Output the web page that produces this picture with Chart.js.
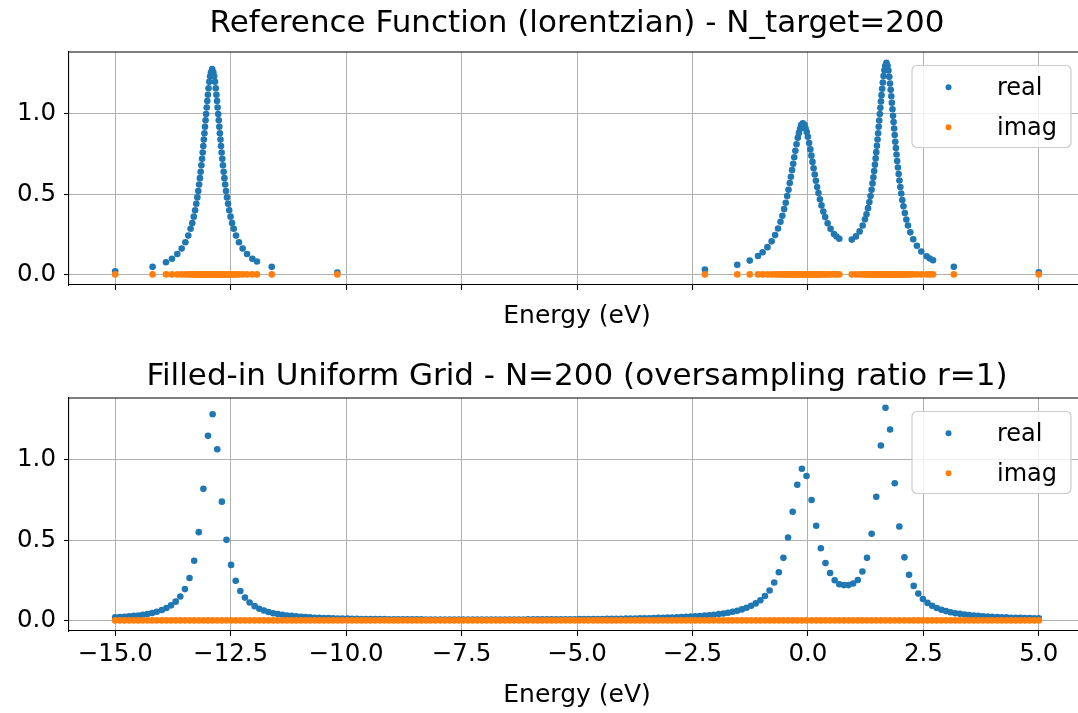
<!DOCTYPE html>
<html>
<head>
<meta charset="utf-8">
<script src="https://cdn.jsdelivr.net/npm/chart.js@4.4.1/dist/chart.umd.min.js"></script>
<style>
  html, body { margin: 0; padding: 0; background: #fff; overflow: hidden; }
  canvas { position: absolute; left: 0; display: block; }
  #refChart { top: 0; }
  #gridChart { top: 356px; }
</style>
</head>
<body>
<canvas id="refChart" width="1100" height="356"></canvas>
<canvas id="gridChart" width="1100" height="357"></canvas>
<script>
'use strict';

// reference (adaptive) sampling of the lorentzian
var refEnergy = [
  -15.00, -14.19, -13.90, -13.77, -13.655, -13.56, -13.48, -13.417, -13.367, -13.331,
  -13.298, -13.269, -13.244, -13.221, -13.201, -13.182, -13.165, -13.149, -13.133, -13.119,
  -13.105, -13.092, -13.080, -13.067, -13.055, -13.043, -13.031, -13.018, -13.006, -12.992,
  -12.978, -12.962, -12.944, -12.925, -12.90, -12.875, -12.856, -12.838, -12.822, -12.808,
  -12.794, -12.782, -12.769, -12.757, -12.745, -12.733, -12.720, -12.708, -12.695, -12.681,
  -12.667, -12.651, -12.635, -12.618, -12.599, -12.579, -12.556, -12.531, -12.502, -12.469,
  -12.433, -12.383, -12.32, -12.24, -12.145, -12.03, -11.93, -11.61, -10.19, -2.23,
  -1.53, -1.26, -1.08, -0.98, -0.875, -0.785, -0.71, -0.647, -0.594, -0.553,
  -0.514, -0.48, -0.449, -0.42, -0.393, -0.368, -0.343, -0.319, -0.296, -0.272,
  -0.246, -0.219, -0.194, -0.169, -0.147, -0.11, -0.073, -0.051, -0.026, -0.001,
  0.026, 0.052, 0.076, 0.099, 0.123, 0.148, 0.173, 0.20, 0.229, 0.26,
  0.294, 0.333, 0.374, 0.427, 0.49, 0.565, 0.62, 0.68, 0.95, 1.04,
  1.12, 1.185, 1.235, 1.269, 1.302, 1.331, 1.356, 1.379, 1.399, 1.418,
  1.435, 1.451, 1.467, 1.481, 1.495, 1.508, 1.5205, 1.533, 1.545, 1.557,
  1.569, 1.582, 1.594, 1.608, 1.622, 1.638, 1.656, 1.675, 1.70, 1.725,
  1.744, 1.762, 1.778, 1.792, 1.806, 1.818, 1.831, 1.843, 1.855, 1.867,
  1.8795, 1.892, 1.905, 1.919, 1.933, 1.949, 1.965, 1.982, 2.001, 2.021,
  2.044, 2.069, 2.098, 2.131, 2.167, 2.217, 2.28, 2.36, 2.455, 2.57,
  2.64, 2.71, 3.16, 5.00
];
var refReal = [
  0.019, 0.047, 0.076, 0.098, 0.127, 0.161, 0.200, 0.242, 0.285, 0.32,
  0.36, 0.40, 0.44, 0.48, 0.52, 0.56, 0.60, 0.64, 0.68, 0.72,
  0.76, 0.80, 0.84, 0.88, 0.92, 0.96, 1.00, 1.04, 1.08, 1.12,
  1.16, 1.20, 1.235, 1.26, 1.28, 1.26, 1.235, 1.20, 1.16, 1.12,
  1.08, 1.04, 1.00, 0.96, 0.92, 0.88, 0.84, 0.80, 0.76, 0.72,
  0.68, 0.64, 0.60, 0.56, 0.52, 0.48, 0.44, 0.40, 0.36, 0.32,
  0.285, 0.242, 0.200, 0.161, 0.127, 0.098, 0.080, 0.047, 0.012, 0.030,
  0.060, 0.086, 0.115, 0.138, 0.170, 0.206, 0.245, 0.286, 0.328, 0.366,
  0.407, 0.447, 0.488, 0.528, 0.569, 0.609, 0.650, 0.690, 0.730, 0.771,
  0.811, 0.852, 0.882, 0.908, 0.930, 0.942, 0.932, 0.911, 0.887, 0.858,
  0.819, 0.779, 0.740, 0.701, 0.662, 0.623, 0.584, 0.545, 0.507, 0.468,
  0.430, 0.392, 0.357, 0.319, 0.284, 0.252, 0.236, 0.222, 0.217, 0.237,
  0.268, 0.305, 0.343, 0.375, 0.413, 0.451, 0.489, 0.528, 0.567, 0.605,
  0.644, 0.684, 0.723, 0.762, 0.801, 0.841, 0.880, 0.920, 0.959, 0.999,
  1.038, 1.078, 1.117, 1.157, 1.196, 1.236, 1.272, 1.300, 1.318, 1.300,
  1.270, 1.231, 1.19, 1.15, 1.11, 1.07, 1.029, 0.989, 0.949, 0.909,
  0.868, 0.827, 0.787, 0.747, 0.706, 0.666, 0.626, 0.585, 0.545, 0.504,
  0.464, 0.424, 0.383, 0.342, 0.305, 0.262, 0.219, 0.178, 0.143, 0.113,
  0.099, 0.088, 0.047, 0.013
];
var refImag = [
  0, 0, 0, 0, 0, 0, 0, 0, 0, 0,
  0, 0, 0, 0, 0, 0, 0, 0, 0, 0,
  0, 0, 0, 0, 0, 0, 0, 0, 0, 0,
  0, 0, 0, 0, 0, 0, 0, 0, 0, 0,
  0, 0, 0, 0, 0, 0, 0, 0, 0, 0,
  0, 0, 0, 0, 0, 0, 0, 0, 0, 0,
  0, 0, 0, 0, 0, 0, 0, 0, 0, 0,
  0, 0, 0, 0, 0, 0, 0, 0, 0, 0,
  0, 0, 0, 0, 0, 0, 0, 0, 0, 0,
  0, 0, 0, 0, 0, 0, 0, 0, 0, 0,
  0, 0, 0, 0, 0, 0, 0, 0, 0, 0,
  0, 0, 0, 0, 0, 0, 0, 0, 0, 0,
  0, 0, 0, 0, 0, 0, 0, 0, 0, 0,
  0, 0, 0, 0, 0, 0, 0, 0, 0, 0,
  0, 0, 0, 0, 0, 0, 0, 0, 0, 0,
  0, 0, 0, 0, 0, 0, 0, 0, 0, 0,
  0, 0, 0, 0, 0, 0, 0, 0, 0, 0,
  0, 0, 0, 0, 0, 0, 0, 0, 0, 0,
  0, 0, 0, 0
];

// filled-in uniform grid, N=200
var gridEnergy = [
  -15.00, -14.90, -14.80, -14.70, -14.60, -14.50, -14.40, -14.30, -14.20, -14.10,
  -13.99, -13.89, -13.79, -13.69, -13.59, -13.49, -13.39, -13.29, -13.19, -13.09,
  -12.99, -12.89, -12.79, -12.69, -12.59, -12.49, -12.39, -12.29, -12.19, -12.09,
  -11.98, -11.88, -11.78, -11.68, -11.58, -11.48, -11.38, -11.28, -11.18, -11.08,
  -10.98, -10.88, -10.78, -10.68, -10.58, -10.48, -10.38, -10.28, -10.18, -10.08,
  -9.97, -9.87, -9.77, -9.67, -9.57, -9.47, -9.37, -9.27, -9.17, -9.07,
  -8.97, -8.87, -8.77, -8.67, -8.57, -8.47, -8.37, -8.27, -8.17, -8.07,
  -7.96, -7.86, -7.76, -7.66, -7.56, -7.46, -7.36, -7.26, -7.16, -7.06,
  -6.96, -6.86, -6.76, -6.66, -6.56, -6.46, -6.36, -6.26, -6.16, -6.06,
  -5.95, -5.85, -5.75, -5.65, -5.55, -5.45, -5.35, -5.25, -5.15, -5.05,
  -4.95, -4.85, -4.75, -4.65, -4.55, -4.45, -4.35, -4.25, -4.15, -4.05,
  -3.94, -3.84, -3.74, -3.64, -3.54, -3.44, -3.34, -3.24, -3.14, -3.04,
  -2.94, -2.84, -2.74, -2.64, -2.54, -2.44, -2.34, -2.24, -2.14, -2.04,
  -1.93, -1.83, -1.73, -1.63, -1.53, -1.43, -1.33, -1.23, -1.13, -1.03,
  -0.93, -0.83, -0.73, -0.63, -0.53, -0.43, -0.33, -0.23, -0.13, -0.03,
  0.08, 0.18, 0.28, 0.38, 0.48, 0.58, 0.68, 0.78, 0.88, 0.98,
  1.08, 1.18, 1.28, 1.38, 1.48, 1.58, 1.68, 1.78, 1.88, 1.98,
  2.09, 2.19, 2.29, 2.39, 2.49, 2.59, 2.69, 2.79, 2.89, 2.99,
  3.09, 3.19, 3.29, 3.39, 3.49, 3.59, 3.69, 3.79, 3.89, 3.99,
  4.10, 4.20, 4.30, 4.40, 4.50, 4.60, 4.70, 4.80, 4.90, 5.00
];
var gridReal = [
  0.019, 0.021, 0.023, 0.025, 0.028, 0.031, 0.035, 0.040, 0.046, 0.054,
  0.065, 0.077, 0.094, 0.117, 0.149, 0.195, 0.264, 0.372, 0.55, 0.82,
  1.15, 1.285, 1.067, 0.74, 0.502, 0.346, 0.247, 0.183, 0.142, 0.112,
  0.089, 0.073, 0.062, 0.052, 0.045, 0.040, 0.035, 0.031, 0.028, 0.025,
  0.023, 0.021, 0.019, 0.017, 0.016, 0.015, 0.014, 0.013, 0.012, 0.011,
  0.011, 0.010, 0.010, 0.009, 0.009, 0.0086, 0.0083, 0.0080, 0.0077, 0.0074,
  0.0073, 0.0070, 0.0069, 0.0066, 0.0065, 0.0064, 0.0063, 0.0061, 0.0061, 0.0059,
  0.0059, 0.0058, 0.0058, 0.0058, 0.0057, 0.0057, 0.0057, 0.0058, 0.0058, 0.0058,
  0.0057, 0.0057, 0.0058, 0.0058, 0.0059, 0.0059, 0.0060, 0.0061, 0.0061, 0.0062,
  0.0063, 0.0064, 0.0065, 0.0066, 0.0068, 0.0069, 0.0071, 0.0073, 0.0074, 0.0076,
  0.0078, 0.0080, 0.0083, 0.0085, 0.0088, 0.0091, 0.0094, 0.0098, 0.0102, 0.0106,
  0.0110, 0.0115, 0.0121, 0.0127, 0.0133, 0.0139, 0.0147, 0.0155, 0.0163, 0.0173,
  0.0182, 0.0194, 0.0206, 0.0220, 0.0236, 0.0254, 0.0274, 0.0297, 0.0323, 0.0353,
  0.0392, 0.0433, 0.048, 0.0536, 0.0604, 0.0686, 0.0785, 0.091, 0.106, 0.126,
  0.152, 0.186, 0.236, 0.30, 0.39, 0.517, 0.677, 0.845, 0.945, 0.90,
  0.75, 0.59, 0.45, 0.357, 0.295, 0.25, 0.225, 0.22, 0.22, 0.23,
  0.252, 0.305, 0.39, 0.54, 0.77, 1.09, 1.325, 1.19, 0.855, 0.585,
  0.393, 0.284, 0.215, 0.167, 0.133, 0.109, 0.091, 0.077, 0.066, 0.058,
  0.051, 0.045, 0.041, 0.037, 0.034, 0.031, 0.028, 0.026, 0.024, 0.022,
  0.021, 0.020, 0.019, 0.017, 0.016, 0.0155, 0.015, 0.014, 0.013, 0.0125
];
var gridImag = [
  0, 0, 0, 0, 0, 0, 0, 0, 0, 0,
  0, 0, 0, 0, 0, 0, 0, 0, 0, 0,
  0, 0, 0, 0, 0, 0, 0, 0, 0, 0,
  0, 0, 0, 0, 0, 0, 0, 0, 0, 0,
  0, 0, 0, 0, 0, 0, 0, 0, 0, 0,
  0, 0, 0, 0, 0, 0, 0, 0, 0, 0,
  0, 0, 0, 0, 0, 0, 0, 0, 0, 0,
  0, 0, 0, 0, 0, 0, 0, 0, 0, 0,
  0, 0, 0, 0, 0, 0, 0, 0, 0, 0,
  0, 0, 0, 0, 0, 0, 0, 0, 0, 0,
  0, 0, 0, 0, 0, 0, 0, 0, 0, 0,
  0, 0, 0, 0, 0, 0, 0, 0, 0, 0,
  0, 0, 0, 0, 0, 0, 0, 0, 0, 0,
  0, 0, 0, 0, 0, 0, 0, 0, 0, 0,
  0, 0, 0, 0, 0, 0, 0, 0, 0, 0,
  0, 0, 0, 0, 0, 0, 0, 0, 0, 0,
  0, 0, 0, 0, 0, 0, 0, 0, 0, 0,
  0, 0, 0, 0, 0, 0, 0, 0, 0, 0,
  0, 0, 0, 0, 0, 0, 0, 0, 0, 0,
  0, 0, 0, 0, 0, 0, 0, 0, 0, 0
];

var xTicks = [-15, -12.5, -10, -7.5, -5, -2.5, 0, 2.5, 5];
var xTickLabels = ['\u221215.0', '\u221212.5', '\u221210.0', '\u22127.5', '\u22125.0', '\u22122.5', '0.0', '2.5', '5.0'];
var yTicks = [0, 0.5, 1.0];
var yTickLabels = ['0.0', '0.5', '1.0'];

var BLUE = '#1f77b4';
var ORANGE = '#ff7f0e';

Chart.defaults.font.family = "'DejaVu Sans', sans-serif";
Chart.defaults.color = '#000';

function toPoints(xs, ys) {
  return xs.map(function (x, i) { return {x: x, y: ys[i]}; });
}

// top spine + matplotlib style legend box
var frameAndLegend = {
  id: 'frameAndLegend',
  afterDraw: function (chart) {
    var ctx = chart.ctx, a = chart.chartArea;
    ctx.save();
    ctx.strokeStyle = '#000';
    ctx.lineWidth = 1.1;
    ctx.beginPath();
    ctx.moveTo(a.left, a.top);
    ctx.lineTo(a.right, a.top);
    ctx.stroke();

    var bw = 159, bh = 82, r = 5;
    var bx = a.right - 14 - bw, by = a.top + 13.5;
    ctx.beginPath();
    ctx.moveTo(bx + r, by);
    ctx.lineTo(bx + bw - r, by);
    ctx.arcTo(bx + bw, by, bx + bw, by + r, r);
    ctx.lineTo(bx + bw, by + bh - r);
    ctx.arcTo(bx + bw, by + bh, bx + bw - r, by + bh, r);
    ctx.lineTo(bx + r, by + bh);
    ctx.arcTo(bx, by + bh, bx, by + bh - r, r);
    ctx.lineTo(bx, by + r);
    ctx.arcTo(bx, by, bx + r, by, r);
    ctx.closePath();
    ctx.fillStyle = 'rgba(255,255,255,0.8)';
    ctx.fill();
    ctx.strokeStyle = '#cccccc';
    ctx.lineWidth = 1.2;
    ctx.stroke();

    ctx.font = "24px 'DejaVu Sans', sans-serif";
    ctx.textAlign = 'left';
    ctx.textBaseline = 'alphabetic';
    chart.data.datasets.forEach(function (ds, i) {
      var cy = by + 21.7 + i * 40;
      ctx.fillStyle = ds.backgroundColor;
      ctx.beginPath();
      ctx.arc(bx + 36.5, cy, 3, 0, Math.PI * 2);
      ctx.fill();
      ctx.fillStyle = '#000';
      ctx.fillText(ds.label, bx + 85, by + 29.3 + i * 40);
    });
    ctx.restore();
  }
};

function makeChart(id, cfg) {
  return new Chart(document.getElementById(id), {
    type: 'scatter',
    data: {
      datasets: [
        {label: 'real', data: toPoints(cfg.energy, cfg.real), backgroundColor: BLUE, borderWidth: 0, pointRadius: 3.3, order: 1},
        {label: 'imag', data: toPoints(cfg.energy, cfg.imag), backgroundColor: ORANGE, borderWidth: 0, pointRadius: 3.3, order: 0}
      ]
    },
    options: {
      responsive: false,
      animation: false,
      events: [],
      layout: {padding: {left: 0, right: 15, top: 0, bottom: 0}},
      plugins: {
        legend: {display: false},
        tooltip: {enabled: false},
        title: {
          display: true,
          fullSize: false,   // centre over the axes, like matplotlib
          text: cfg.title,
          color: '#000',
          font: {size: 31, weight: 'normal'},
          padding: {top: cfg.titleTop, bottom: cfg.titleBottom}
        }
      },
      scales: {
        x: {
          type: 'linear',
          min: -16,
          max: 6,
          afterBuildTicks: function (axis) {
            axis.ticks = xTicks.map(function (v) { return {value: v}; });
          },
          afterFit: function (axis) { axis.height = cfg.xHeight; },
          ticks: {
            display: cfg.showXLabels,
            autoSkip: false,
            maxRotation: 0,
            padding: 4,
            font: {size: 24.5},
            callback: function (v) { return xTickLabels[xTicks.indexOf(v)]; }
          },
          grid: {color: '#b0b0b0', lineWidth: 1, tickColor: '#000', tickLength: 5, tickWidth: 1.1},
          border: {display: true, color: '#000', width: 1.1},
          title: {
            display: true,
            text: 'Energy (eV)',
            font: {size: 25},
            padding: {top: 0, bottom: cfg.xTitleBottom}
          }
        },
        y: {
          type: 'linear',
          min: -0.066,
          max: 1.386,
          afterBuildTicks: function (axis) {
            axis.ticks = yTicks.map(function (v) { return {value: v}; });
          },
          afterFit: function (axis) { axis.width = 69; },
          ticks: {
            padding: 8,
            font: {size: 24.5},
            callback: function (v) { return yTickLabels[yTicks.indexOf(v)]; }
          },
          grid: {color: '#b0b0b0', lineWidth: 1, tickColor: '#000', tickLength: 5, tickWidth: 1.1},
          border: {display: true, color: '#000', width: 1.1}
        }
      }
    },
    plugins: [frameAndLegend]
  });
}

makeChart('refChart', {
  title: 'Reference Function (lorentzian) - N_target=200',
  energy: refEnergy, real: refReal, imag: refImag,
  titleTop: 5.4, titleBottom: 9.4,
  xHeight: 71, showXLabels: false, xTitleBottom: 25
});

makeChart('gridChart', {
  title: 'Filled-in Uniform Grid - N=200 (oversampling ratio r=1)',
  energy: gridEnergy, real: gridReal, imag: gridImag,
  titleTop: 2, titleBottom: 2.8,
  xHeight: 82, showXLabels: true, xTitleBottom: 3
});
</script>
</body>
</html>
